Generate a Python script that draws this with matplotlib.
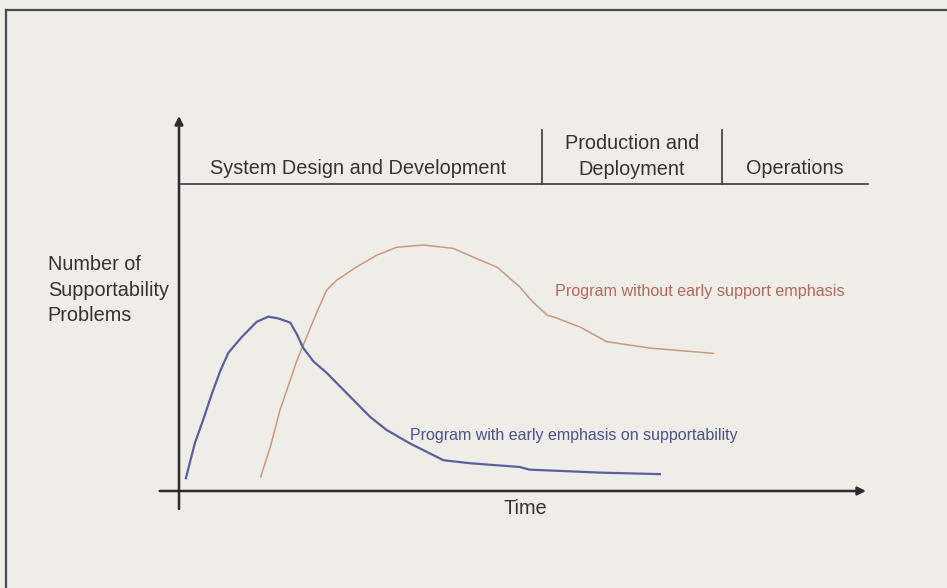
import matplotlib
matplotlib.use('Agg')
import matplotlib.pyplot as plt
from matplotlib.lines import Line2D

# data (time in % of life cycle, problems in relative units)
with_time = [1.0, 2.3, 3.5, 4.8, 6.0, 7.2, 9.1, 11.3, 13.0, 14.5, 16.2, 17.1, 18.1, 19.6,
             21.5, 24.4, 27.8, 30.2, 33.6, 38.5, 42.4, 49.6, 51.0, 61.3, 70.0]
with_problems = [3.4, 12.7, 18.9, 26.0, 32.0, 36.9, 41.0, 45.1, 46.5, 46.0, 44.9, 42.0, 38.1, 34.5,
                 31.5, 26.1, 19.8, 16.3, 12.7, 8.2, 7.4, 6.4, 5.7, 4.9, 4.5]

without_time = [11.9, 13.3, 14.7, 15.7, 17.1, 18.6, 20.0, 21.5, 23.0, 25.9, 28.8, 31.7, 35.6,
                39.9, 43.8, 46.3, 49.6, 51.5, 53.6, 55.0, 58.4, 62.3, 68.6, 77.8]
without_problems = [3.8, 11.8, 21.6, 26.9, 34.5, 41.2, 47.4, 53.6, 56.3, 59.8, 62.9, 65.0, 65.6,
                    64.7, 61.6, 59.7, 54.4, 50.4, 46.9, 46.1, 43.7, 39.8, 38.1, 36.7]

phases = ['System Design and Development', 'Production and\nDeployment', 'Operations']
phase_centers = [26.1, 65.9, 89.7]
phase_bounds = [52.8, 79.0]

bg = '#eeede8'
ink = '#2e2a2e'
plt.rcParams['font.family'] = ['Liberation Sans', 'DejaVu Sans']

fig = plt.figure(figsize=(9.47, 5.88), dpi=100, facecolor=bg)
ax = fig.add_axes([0, 0, 1, 1])
ax.set_facecolor(bg)
ax.set_xlim(-179 / 6.87, 768 / 6.87)
ax.set_ylim(-97 / 3.75, 491 / 3.75)
ax.axis('off')

# frame (only top and left edges visible)
fig.add_artist(Line2D([6 / 947, 6 / 947], [0, 1 - 10 / 588], color='#4a4a4a', lw=1.6))
fig.add_artist(Line2D([6 / 947, 1], [1 - 10 / 588, 1 - 10 / 588], color='#4a4a4a', lw=1.6))

# axes with arrows
ax.annotate('', xy=(0, 100), xytext=(0, -4.8),
            arrowprops=dict(arrowstyle='-|>', color=ink, lw=1.8, mutation_scale=12, shrinkA=0, shrinkB=0))
ax.annotate('', xy=(100, 0), xytext=(-2.8, 0),
            arrowprops=dict(arrowstyle='-|>', color=ink, lw=1.8, mutation_scale=12, shrinkA=0, shrinkB=0))

# phase header
ax.plot([0, 100.3], [81.9, 81.9], color='#3a3a3a', lw=1.2)
for b in phase_bounds:
    ax.plot([b, b], [81.9, 96.3], color='#3a3a3a', lw=1.2)
ax.text(phase_centers[0], 86.0, phases[0], ha='center', va='center', fontsize=14.3, color='#333333')
ax.text(phase_centers[1], 89.3, phases[1], ha='center', va='center', fontsize=14.3, color='#333333',
        linespacing=1.45)
ax.text(phase_centers[2], 86.0, phases[2], ha='center', va='center', fontsize=14.3, color='#333333')

# curves
ax.plot(without_time, without_problems, color='#c48a6c', lw=1.1, alpha=0.85)
ax.plot(with_time, with_problems, color='#5b5f9e', lw=1.6)

ax.text(54.7, 53.1, 'Program without early support emphasis', ha='left', va='center',
        fontsize=11.6, color='#b5685a')
ax.text(33.6, 14.7, 'Program with early emphasis on supportability', ha='left', va='center',
        fontsize=11.5, color='#4f4f8c')

ax.text(50.4, -4.6, 'Time', ha='center', va='center', fontsize=14.3, color='#333333')
ax.text(-19.1, 53.6, 'Number of\nSupportability\nProblems', ha='left', va='center',
        fontsize=14.3, color='#333333', linespacing=1.45)

fig.savefig('out.png', dpi=100, facecolor=bg)
